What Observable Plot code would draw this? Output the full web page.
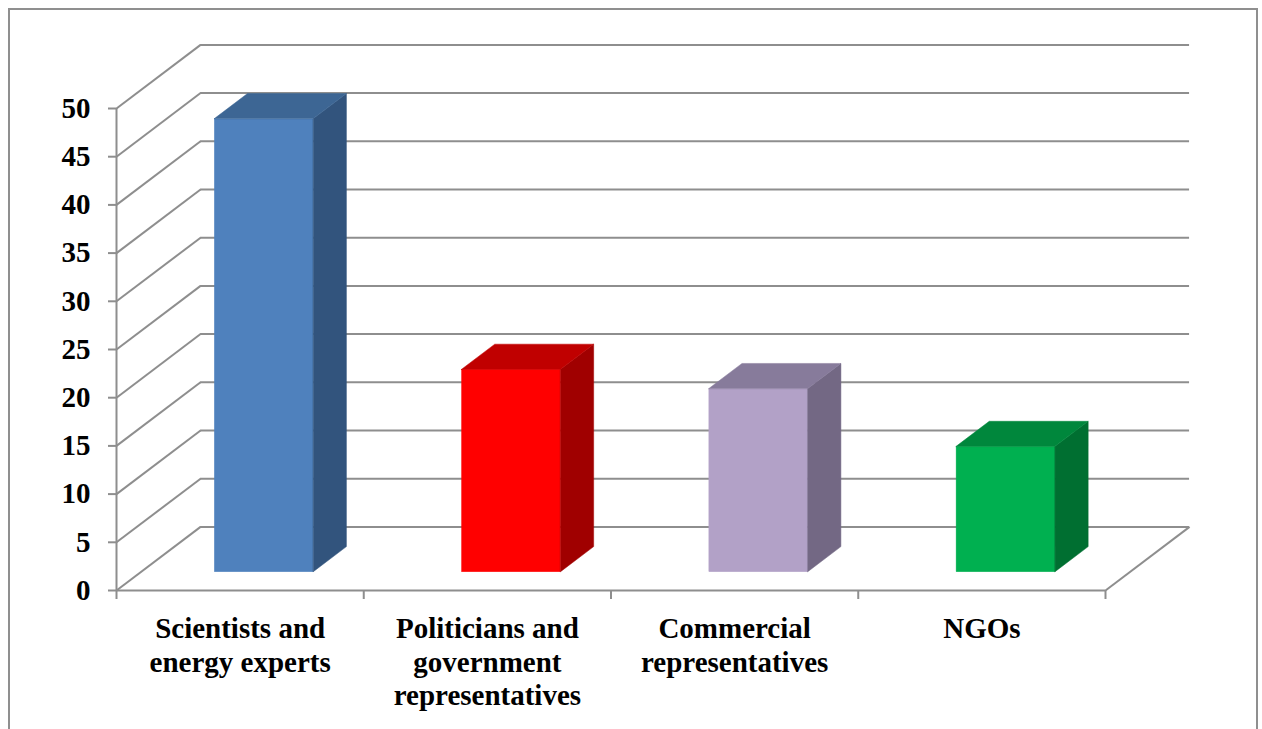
<!DOCTYPE html>
<html><head><meta charset="utf-8">
<script src="https://cdn.jsdelivr.net/npm/d3@7"></script>
<script src="https://cdn.jsdelivr.net/npm/@observablehq/plot@0.6"></script>
<style>
html,body{margin:0;padding:0;background:#fff;overflow:hidden}
#wrap{position:relative;width:1262px;height:729px}
#wrap svg{position:absolute;left:0;top:0}
#border{position:absolute;left:8px;top:8px;width:1250px;height:760px;border:2px solid #8f8f8f;box-sizing:border-box;pointer-events:none}
</style></head><body><div id="wrap"><div id="border"></div></div>
<script>
// ---- data ----
const categories = ["Scientists and\nenergy experts", "Politicians and\ngovernment\nrepresentatives", "Commercial\nrepresentatives", "NGOs"];
const values = [47, 21, 19, 13];
const frontColors = ["#4f81bd", "#ff0000", "#b2a1c7", "#00b050"];
const sideColors  = ["#32547d", "#a00000", "#736884", "#006f31"];
const topColors   = ["#3d6694", "#c00000", "#877b9b", "#00873c"];
const yTicks = [0, 5, 10, 15, 20, 25, 30, 35, 40, 45, 50];
const xTicks = [0, 1, 2, 3, 4];

// ---- oblique projection (depth in data units) ----
const DX = 0.34, DY = 6.6;      // full wall depth
const F1 = 0.288, F2 = 0.682;   // bar front/back depth fraction
const HW = 0.2;                 // bar half width (category units)
const TICKX = 8 / 247.25, TICKY = 9 / 9.63;
const grid = "#8e8e8e";
const font = "Liberation Serif, Times New Roman, serif";

const bars = categories.map((c, i) => ({i, c, v: values[i]}));
const front = bars.map(b => ({...b, x1: b.i + 0.5 - HW + F1 * DX, x2: b.i + 0.5 + HW + F1 * DX, y1: F1 * DY, y2: b.v + F1 * DY}));
const side = bars.flatMap(b => [F1, F2].map(f => ({...b, x: b.i + 0.5 + HW + f * DX, y1: f * DY, y2: b.v + f * DY})));
const topF = bars.flatMap(b => [F1, F2].map(f => ({...b, y: b.v + f * DY, x1: b.i + 0.5 - HW + f * DX, x2: b.i + 0.5 + HW + f * DX})));

const chart = Plot.plot({
  width: 1262, height: 729,
  marginLeft: 116, marginRight: 157, marginTop: 108, marginBottom: 139,
  x: {domain: [0, 4], axis: null},
  y: {domain: [0, 50], axis: null},
  color: {type: "identity"},
  style: {background: "transparent", fontFamily: font},
  marks: [
    // back wall gridlines
    Plot.ruleY(yTicks, {y: d => d + DY, x1: DX, x2: 4 + DX, stroke: grid, strokeWidth: 2}),
    // side wall diagonals
    Plot.link(yTicks, {x1: 0, y1: d => d, x2: DX, y2: d => d + DY, stroke: grid, strokeWidth: 2}),
    // front axis
    Plot.ruleX([0], {x: d => d, y1: 0, y2: 50, stroke: grid, strokeWidth: 2}),
    Plot.ruleY([0], {y: d => d, x1: 0, x2: 4, stroke: grid, strokeWidth: 2}),
    Plot.link([0], {x1: 4, y1: 0, x2: 4 + DX, y2: DY, stroke: grid, strokeWidth: 2}),
    Plot.ruleY(yTicks, {y: d => d, x1: -TICKX, x2: 0, stroke: grid, strokeWidth: 2}),
    Plot.ruleX(xTicks, {x: d => d, y1: -TICKY, y2: 0, stroke: grid, strokeWidth: 2}),
    // bars
    Plot.rectY(front, {x1: "x1", x2: "x2", y1: "y1", y2: "y2", fill: d => frontColors[d.i], stroke: d => frontColors[d.i], strokeWidth: 0.5}),
    Plot.areaY(side, {x: "x", y1: "y1", y2: "y2", z: "i", fill: d => sideColors[d.i], stroke: d => sideColors[d.i], strokeWidth: 0.5}),
    Plot.areaX(topF, {y: "y", x1: "x1", x2: "x2", z: "i", fill: d => topColors[d.i], stroke: d => topColors[d.i], strokeWidth: 0.5}),
    // labels
    Plot.text(yTicks, {x: 0, y: d => d, text: d => String(d), dx: -26, textAnchor: "end", fontSize: 29, fontWeight: "bold", fontFamily: font, fill: "black"}),
    Plot.text(bars, {x: d => d.i + 0.5, y: 0, text: "c", lineAnchor: "top", dy: 24, lineHeight: 1.15, fontSize: 29, fontWeight: "bold", fontFamily: font, fill: "black"})
  ]
});
document.getElementById("wrap").prepend(chart);
</script>
</body></html>
